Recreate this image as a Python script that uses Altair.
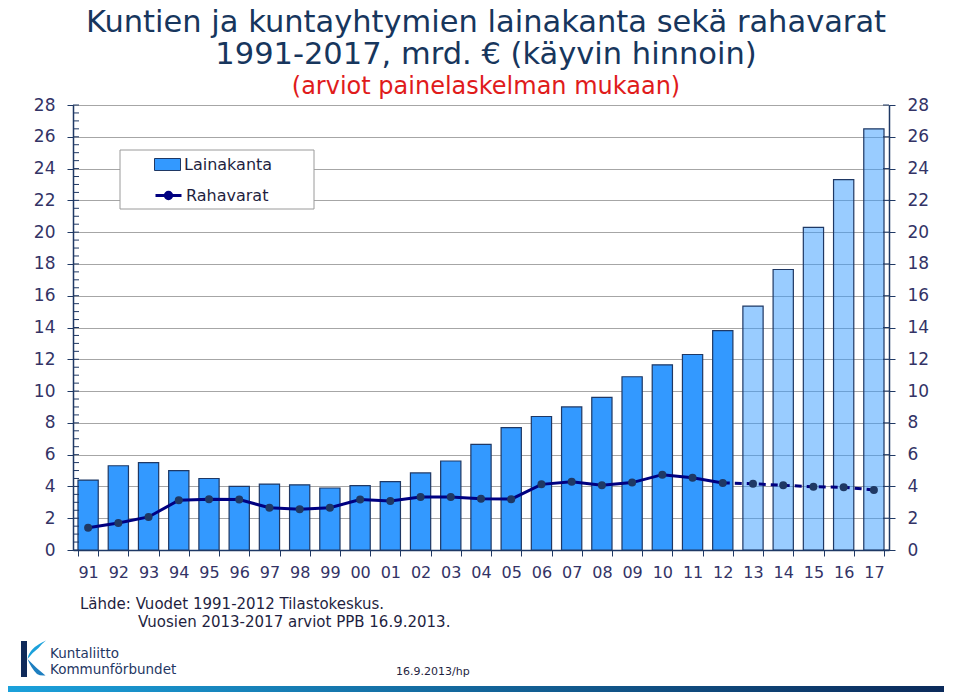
import altair as alt
import pandas as pd

YEARS = ["91", "92", "93", "94", "95", "96", "97", "98", "99", "00", "01", "02", "03", "04",
         "05", "06", "07", "08", "09", "10", "11", "12", "13", "14", "15", "16", "17"]
LAINAKANTA = [4.4, 5.3, 5.5, 5.0, 4.5, 4.0, 4.15, 4.1, 3.9, 4.05, 4.3, 4.85, 5.6, 6.65,
              7.7, 8.4, 9.0, 9.6, 10.9, 11.65, 12.3, 13.8, 15.35, 17.65, 20.3, 23.3, 26.5]
RAHAVARAT = [1.4, 1.7, 2.08, 3.13, 3.2, 3.17, 2.66, 2.56, 2.66, 3.17, 3.08, 3.33, 3.33, 3.23,
             3.2, 4.13, 4.3, 4.07, 4.24, 4.74, 4.55, 4.22, 4.17, 4.07, 3.98, 3.95, 3.78]
ESTIMATE = [y in ("13", "14", "15", "16", "17") for y in YEARS]
MAJOR_TICKS = list(range(0, 29, 2))
MINOR_TICKS = [i / 2 for i in range(0, 57)]

TITLE = ["Kuntien ja kuntayhtymien lainakanta sekä rahavarat", "1991-2017, mrd. € (käyvin hinnoin)"]
SUBTITLE = "(arviot painelaskelman mukaan)"
SOURCE1 = "Lähde: Vuodet 1991-2012 Tilastokeskus."
SOURCE2 = "Vuosien 2013-2017 arviot PPB 16.9.2013."
DATE = "16.9.2013/hp"
LOGO1 = "Kuntaliitto"
LOGO2 = "Kommunförbundet"

FONT = "DejaVu Sans"
NAVY = "#1F3864"
LABEL = "#333366"
W, H = 816, 445

df = pd.DataFrame({"year": YEARS, "laina": LAINAKANTA, "raha": RAHAVARAT, "estimate": ESTIMATE})
df["s1"] = "Lainakanta"
df["s2"] = "Rahavarat"
df["idx"] = range(len(YEARS))

ydom = alt.Scale(domain=[0, 28], nice=False, zero=True)
xenc = alt.X("year:N", sort=YEARS, title=None,
             scale=alt.Scale(paddingInner=0.33, paddingOuter=0.165),
             axis=alt.Axis(labelFont=FONT, labelFontSize=16, labelColor=LABEL, labelPadding=8,
                           tickBand="extent", tickSize=6, tickColor=NAVY, domainColor=NAVY,
                           domainWidth=1.5, labelAngle=0, grid=False))

base = alt.Chart(df)

bars = base.mark_bar(stroke=NAVY, strokeWidth=1.2).encode(
    x=xenc,
    y=alt.Y("laina:Q", scale=ydom, title=None,
            axis=alt.Axis(orient="left", values=MAJOR_TICKS, labelFont=FONT, labelFontSize=17,
                          labelColor=LABEL, labelPadding=12, tickSize=6, tickColor=NAVY,
                          domainColor=NAVY, domainWidth=1.5, grid=True, gridColor="#A6A6A6",
                          gridWidth=1)),
    fill=alt.Fill("s1:N", scale=alt.Scale(domain=["Lainakanta"], range=["#3399FF"]),
                  legend=alt.Legend(title=None, orient="none", legendX=84, legendY=49, padding=0,
                                    symbolType="M-1.3,-0.6H1.3V0.6H-1.3Z", symbolSize=400,
                                    symbolStrokeColor=NAVY, symbolStrokeWidth=1, symbolOpacity=1,
                                    labelFont=FONT, labelFontSize=16, labelColor="#1F1F3F",
                                    labelOffset=6)),
    fillOpacity=alt.when(alt.datum.estimate).then(alt.value(0.5)).otherwise(alt.value(1.0)),
)

line_solid = base.transform_filter(alt.datum.idx <= 21).mark_line(strokeWidth=3).encode(
    x=alt.X("year:N", sort=YEARS),
    y=alt.Y("raha:Q", scale=ydom,
            axis=alt.Axis(orient="right", values=MAJOR_TICKS, labelFont=FONT, labelFontSize=17,
                          labelColor=LABEL, labelPadding=12, tickSize=6, tickColor=NAVY,
                          domainColor=NAVY, domainWidth=1.5, grid=False, title=None)),
    stroke=alt.Stroke("s2:N", scale=alt.Scale(domain=["Rahavarat"], range=["#000080"]),
                      legend=alt.Legend(title=None, orient="none", legendX=84, legendY=79, padding=0,
                                        symbolType="M-1.3,0H1.3M-0.32,0A0.32,0.32,0,1,0,0.32,0A0.32,0.32,0,1,0,-0.32,0",
                                        symbolSize=400, symbolStrokeWidth=3, symbolFillColor=NAVY,
                                        labelFont=FONT, labelFontSize=16, labelColor="#1F1F3F",
                                        labelOffset=6)),
)

line_dash = base.transform_filter(alt.datum.idx >= 21).mark_line(
    strokeWidth=3, strokeDash=[7, 5], color="#000080").encode(
    x=alt.X("year:N", sort=YEARS),
    y=alt.Y("raha:Q", scale=ydom, axis=None),
)

points = base.mark_circle(size=64, color=NAVY, opacity=1).encode(
    x=alt.X("year:N", sort=YEARS),
    y=alt.Y("raha:Q", scale=ydom, axis=None),
)

minor = alt.Chart(pd.DataFrame({"v": MINOR_TICKS})).mark_rule(color=NAVY, strokeWidth=1).encode(
    y=alt.Y("v:Q", scale=ydom, axis=None), x=alt.value(0), x2=alt.value(6))
major_r = alt.Chart(pd.DataFrame({"v": MAJOR_TICKS})).mark_rule(color=NAVY, strokeWidth=1).encode(
    y=alt.Y("v:Q", scale=ydom, axis=None), x=alt.value(W - 6), x2=alt.value(W))

legend_box = alt.Chart(pd.DataFrame({"a": [0]})).mark_rect(
    fill="white", stroke="#9A9A9A", strokeWidth=1).encode(
    x=alt.value(47), x2=alt.value(241), y=alt.value(45), y2=alt.value(104))

def txt(text, x, y, size, color="#1F1F3F", align="left"):
    return alt.Chart(pd.DataFrame({"t": [text]})).mark_text(
        font=FONT, fontSize=size, color=color, align=align, baseline="middle").encode(
        text="t:N", x=alt.value(x), y=alt.value(y))

src1 = txt(SOURCE1, 7, 499, 15)
src2 = txt(SOURCE2, 65, 517, 15)
date = txt(DATE, 323, 567, 11)
logo1 = txt(LOGO1, -23, 549, 13.5, NAVY)
logo2 = txt(LOGO2, -23, 565, 13.5, NAVY)

logo_bar = alt.Chart(pd.DataFrame({"a": [0]})).mark_rect(fill="#0F2A5A").encode(
    x=alt.value(-52), x2=alt.value(-46), y=alt.value(536), y2=alt.value(572))
logo_swoosh = alt.Chart(pd.DataFrame({"a": [0]})).mark_point(
    shape="M1.1,-1.75Q-0.6,-1.0,-0.75,0.1Q-0.2,-0.6,0.35,-1.0Q0.7,-1.45,1.1,-1.75Z",
    filled=True, fill="#1BA1DB", size=400, opacity=1, strokeWidth=0).encode(
    x=alt.value(-38), y=alt.value(553))
logo_leg = alt.Chart(pd.DataFrame({"a": [0]})).mark_point(
    shape="M-0.75,0.1Q0.1,1.0,1.05,1.75Q0.5,1.8,0.2,1.6Q-0.4,1.0,-0.75,0.1Z",
    filled=True, fill="#1E7FC0", size=400, opacity=1, strokeWidth=0).encode(
    x=alt.value(-38), y=alt.value(553))

strip = alt.Chart(pd.DataFrame({"a": [0]})).mark_rect(
    fill=alt.LinearGradient(gradient="linear", x1=0, x2=1, y1=0, y2=0,
                            stops=[alt.GradientStop(color="#1BA1DB", offset=0),
                                   alt.GradientStop(color="#0B2A5A", offset=1)])).encode(
    x=alt.value(-65), x2=alt.value(W + 55), y=alt.value(581), y2=alt.value(590))

chart = alt.layer(
    bars, line_solid, line_dash, points, minor, major_r, legend_box,
    src1, src2, date, logo1, logo2, logo_bar, logo_swoosh, logo_leg, strip
).resolve_scale(y="independent").properties(
    width=W, height=H,
    autosize=alt.AutoSizeParams(type="none"),
    padding={"left": 65, "top": 97, "right": 55, "bottom": 142},
    title=alt.TitleParams(text=TITLE, subtitle=SUBTITLE, font=FONT, fontSize=30.5, fontWeight="normal",
                          color="#17365D", lineHeight=32, subtitleFont=FONT, subtitleFontSize=24,
                          subtitleColor="#E01B1B", subtitlePadding=5, anchor="middle", offset=-3,
                          dx=5),
).configure_view(stroke=NAVY, strokeWidth=1)

chart.save("out.html", embed_options={"renderer": "svg", "actions": False})
